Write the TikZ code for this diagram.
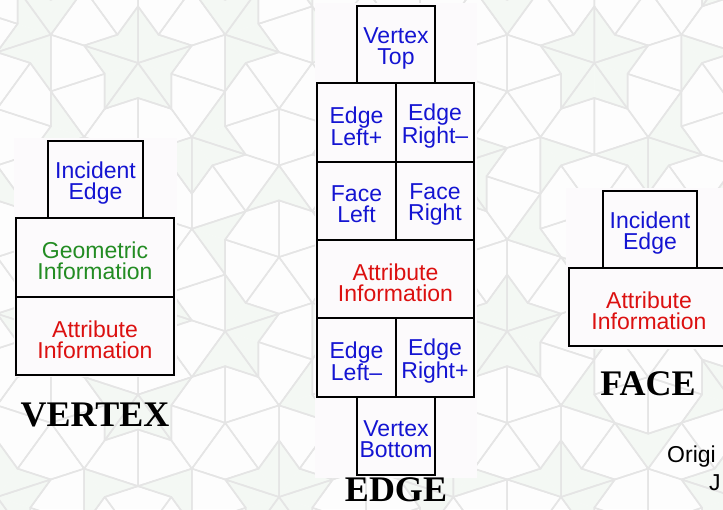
\documentclass[tikz,border=0pt]{standalone}
\usepackage{fontspec}
\setmainfont{Liberation Serif}
\setsansfont{Liberation Sans}

\definecolor{tilebg}{HTML}{FDFDFD}
\definecolor{tileline}{HTML}{E5E5E5}
\definecolor{tiletint}{HTML}{F4F8F4}
\definecolor{panel}{HTML}{FCFAFC}
\definecolor{txtblue}{HTML}{1414D2}
\definecolor{txtgreen}{HTML}{238C23}
\definecolor{txtred}{HTML}{DC1010}

% ---------- Penrose kite/dart tiling by Robinson-triangle deflation ----------
% K(A,B,C): half kite, apex A, axis AB, long edge AC, short edge BC
% D(A,B,C): half dart, 108-degree corner A, axis AB, short edge AC, long edge BC
\def\PenMode{0}
\newcommand\PenOut[6]{%
  \pgfmathtruncatemacro\penout{(max(#1,#3,#5)<-8)||(min(#1,#3,#5)>731)||(max(#2,#4,#6)<-8)||(min(#2,#4,#6)>517)}}
\newcommand\PenLeafK[6]{%
  \ifnum\PenMode=1
    \draw[tileedge] (#1,#2) -- (#5,#6) -- (#3,#4);
  \fi}
\newcommand\PenLeafD[6]{%
  \ifnum\PenMode=0
    \fill[tiletint] (#1,#2) -- (#3,#4) -- (#5,#6) -- cycle;
  \else
    \draw[tileedge] (#1,#2) -- (#5,#6) -- (#3,#4);
  \fi}
\newcommand\PenSplitK[7]{%
  \begingroup
  \pgfmathtruncatemacro\pd{#1-1}%
  \pgfmathsetmacro\pPx{(#2)+((#4)-(#2))*0.618034}%
  \pgfmathsetmacro\pPy{(#3)+((#5)-(#3))*0.618034}%
  \pgfmathsetmacro\pQx{(#6)+((#2)-(#6))*0.618034}%
  \pgfmathsetmacro\pQy{(#7)+((#3)-(#7))*0.618034}%
  \edef\pnext{%
    \noexpand\PenK{\pd}{#6}{#7}{\pPx}{\pPy}{#4}{#5}%
    \noexpand\PenK{\pd}{#6}{#7}{\pPx}{\pPy}{\pQx}{\pQy}%
    \noexpand\PenD{\pd}{\pQx}{\pQy}{#2}{#3}{\pPx}{\pPy}%
  }\pnext
  \endgroup}
\newcommand\PenSplitD[7]{%
  \begingroup
  \pgfmathtruncatemacro\pd{#1-1}%
  \pgfmathsetmacro\pRx{(#4)+((#6)-(#4))*0.618034}%
  \pgfmathsetmacro\pRy{(#5)+((#7)-(#5))*0.618034}%
  \edef\pnext{%
    \noexpand\PenK{\pd}{#4}{#5}{#2}{#3}{\pRx}{\pRy}%
    \noexpand\PenD{\pd}{\pRx}{\pRy}{#6}{#7}{#2}{#3}%
  }\pnext
  \endgroup}
\newcommand\PenK[7]{%
  \PenOut{#2}{#3}{#4}{#5}{#6}{#7}%
  \ifnum\penout=0
    \ifnum#1=0
      \PenLeafK{#2}{#3}{#4}{#5}{#6}{#7}%
    \else
      \PenSplitK{#1}{#2}{#3}{#4}{#5}{#6}{#7}%
    \fi
  \fi}
\newcommand\PenD[7]{%
  \PenOut{#2}{#3}{#4}{#5}{#6}{#7}%
  \ifnum\penout=0
    \ifnum#1=0
      \PenLeafD{#2}{#3}{#4}{#5}{#6}{#7}%
    \else
      \PenSplitD{#1}{#2}{#3}{#4}{#5}{#6}{#7}%
    \fi
  \fi}
% a star of ten half darts around (138,63), deflated eight times
\newcommand\PenStar{%
  \foreach \k in {0,...,4} {%
    \pgfmathsetmacro\sAx{138+1644.25*cos(18+72*\k)}%
    \pgfmathsetmacro\sAy{63+1644.25*sin(18+72*\k)}%
    \pgfmathsetmacro\sBx{138+2660.4*cos(54+72*\k)}%
    \pgfmathsetmacro\sBy{63+2660.4*sin(54+72*\k)}%
    \pgfmathsetmacro\sCx{138+2660.4*cos(-18+72*\k)}%
    \pgfmathsetmacro\sCy{63+2660.4*sin(-18+72*\k)}%
    \PenD{8}{\sAx}{\sAy}{138}{63}{\sBx}{\sBy}%
    \PenD{8}{\sAx}{\sAy}{138}{63}{\sCx}{\sCy}%
  }}

\tikzset{
  tileedge/.style={draw=tileline, line width=1.5pt, line join=round},
  cell/.style={draw=black, line width=1.8pt, fill=panel, inner sep=0pt},
  celltext/.style={inner sep=0pt, align=center, font=\sffamily\fontsize{23}{21}\selectfont},
  paneltile/.style={fill=panel, draw=none},
  title/.style={font=\bfseries\fontsize{36}{36}\selectfont, inner sep=0pt},
  credit/.style={font=\sffamily\fontsize{23}{23}\selectfont, inner sep=0pt}
}
% a record field: box plus its two-line caption, set a little below the middle
\newcommand\Field[7]{% name, x, y, width, height, colour, text
  \node[cell, minimum width=#4, minimum height=#5] (#1) at (#2,#3) {};
  \node[celltext, text=#6] (#1-text) at ([yshift=-3.5pt]#1.center) {#7};}

\begin{document}
\begin{tikzpicture}[x=1pt,y=-1pt]
\useasboundingbox (0,0) rectangle (723,509);
\fill[tilebg] (0,0) rectangle (723,509);

% background tiling: tinted darts first, then all edges
\def\PenMode{0}\PenStar
\def\PenMode{1}\PenStar

% light panels behind the three records
\fill[paneltile] (14,138) rectangle (177,377);
\fill[paneltile] (315,3) rectangle (477,478);
\fill[paneltile] (566,188) rectangle (723,349);

% VERTEX record
\Field{vInc}{95.5}{179.5}{95}{77}{txtblue}{Incident\\Edge}
\Field{vGeo}{95}{257.5}{158}{79}{txtgreen}{Geometric\\Information}
\Field{vAttr}{95}{336}{158}{78}{txtred}{Attribute\\Information}
\node[title] (vTitle) at (95,414.5) {VERTEX};

% EDGE record
\Field{eTop}{396}{44.5}{78}{77}{txtblue}{Vertex\\Top}
\Field{eL1}{356.5}{122.5}{79}{79}{txtblue}{Edge\\Left+}
\Field{eR1}{435}{122.5}{78}{79}{txtblue}{Edge\\Right–}
\Field{eFL}{356.5}{201}{79}{78}{txtblue}{Face\\Left}
\Field{eFR}{435}{201}{78}{78}{txtblue}{Face\\Right}
\Field{eAttr}{395.5}{279}{157}{78}{txtred}{Attribute\\Information}
\Field{eL2}{356.5}{357.5}{79}{79}{txtblue}{Edge\\Left–}
\Field{eR2}{435}{357.5}{78}{79}{txtblue}{Edge\\Right+}
\Field{eBot}{396}{436}{78}{78}{txtblue}{Vertex\\Bottom}
\node[title] (eTitle) at (396,490) {EDGE};

% FACE record
\Field{fInc}{650}{229.5}{94}{77}{txtblue}{Incident\\Edge}
\Field{fAttr}{649}{307}{160}{78}{txtred}{Attribute\\Information}
\node[title] (fTitle) at (648,384) {FACE};

% credit line running off the right edge
\node[credit, anchor=base west] (credit1) at (667,462) {Origi};
\node[credit, anchor=base west] (credit2) at (709,490) {J};
\end{tikzpicture}
\end{document}
